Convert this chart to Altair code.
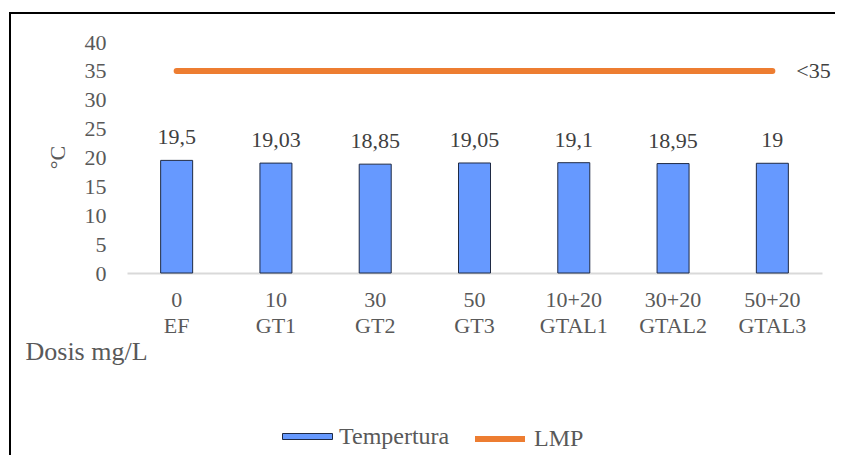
import altair as alt
import pandas as pd

dosis = ["0", "10", "30", "50", "10+20", "30+20", "50+20"]
codigo = ["EF", "GT1", "GT2", "GT3", "GTAL1", "GTAL2", "GTAL3"]
temperatura = [19.5, 19.03, 18.85, 19.05, 19.1, 18.95, 19.0]
lmp = [35, 35, 35, 35, 35, 35, 35]
lmp_label = "<35"
y_ticks = [0, 5, 10, 15, 20, 25, 30, 35, 40]

cats = [f"{d}|{c}" for d, c in zip(dosis, codigo)]

df_bar = pd.DataFrame({"cat": cats, "valor": temperatura, "serie": "Tempertura"})
df_line = pd.DataFrame({"cat": cats, "valor": lmp, "serie": "LMP"})
df_lab = pd.DataFrame({"cat": [cats[-1]], "valor": [lmp[-1]], "txt": [lmp_label]})

FONT = "Liberation Serif"
GRAY = "#595959"

x_axis = alt.Axis(
    title="Dosis mg/L",
    titleX=-102,
    titleY=78,
    titleAlign="left",
    titleBaseline="middle",
    titleFontSize=26,
    titleFontWeight="normal",
    titleColor=GRAY,
    titleFont=FONT,
    labelExpr="split(datum.label, '|')",
    labelAngle=0,
    labelFontSize=22,
    labelLineHeight=26,
    labelPadding=16,
    labelColor=GRAY,
    labelFont=FONT,
    labelFontWeight="normal",
    labelOverlap=False,
    ticks=False,
    domainColor="#D9D9D9",
    domainWidth=2,
    grid=False,
)

y_axis = alt.Axis(
    title="°C",
    titleX=-70,
    titleY=115,
    titleAngle=-90,
    titleAlign="center",
    titleBaseline="middle",
    titleFontSize=22,
    titleFontWeight="normal",
    titleColor=GRAY,
    titleFont=FONT,
    values=y_ticks,
    labelFontSize=22,
    labelColor=GRAY,
    labelFont=FONT,
    labelFontWeight="normal",
    labelPadding=21,
    labelOverlap=False,
    labelBound=False,
    ticks=False,
    domain=False,
    grid=False,
)

y_scale = alt.Scale(domain=[0, 40], nice=False)
x_scale = alt.Scale(paddingInner=0, paddingOuter=0)

bars = alt.Chart(df_bar).mark_bar(size=32, stroke="#1F2A44", strokeWidth=1).encode(
    x=alt.X("cat:N", sort=cats, scale=x_scale, axis=x_axis),
    y=alt.Y("valor:Q", scale=y_scale, axis=y_axis),
    fill=alt.Fill(
        "serie:N",
        scale=alt.Scale(domain=["Tempertura"], range=["#6699FF"]),
        legend=alt.Legend(
            title=None,
            orient="none",
            legendX=155,
            legendY=369,
            labelFontSize=24,
            labelFont=FONT,
            labelColor=GRAY,
            labelOffset=6,
            symbolType="M-1,-0.12H1V0.12H-1Z",
            symbolSize=2500,
            symbolStrokeColor="#1F2A44",
            symbolStrokeWidth=1,
            symbolOpacity=1,
        ),
    ),
)

bar_text = alt.Chart(df_bar).transform_calculate(
    txt="replace(toString(datum.valor), '.', ',')"
).mark_text(font=FONT, fontSize=22, fontWeight="normal", color="#404040", baseline="middle", dy=-23).encode(
    x=alt.X("cat:N", sort=cats, scale=x_scale, axis=x_axis),
    y=alt.Y("valor:Q", scale=y_scale, axis=y_axis),
    text="txt:N",
)

line = alt.Chart(df_line).mark_line(strokeWidth=6, strokeCap="round").encode(
    x=alt.X("cat:N", sort=cats, scale=x_scale, axis=x_axis),
    y=alt.Y("valor:Q", scale=y_scale, axis=y_axis),
    stroke=alt.Stroke(
        "serie:N",
        scale=alt.Scale(domain=["LMP"], range=["#ED7D31"]),
        legend=alt.Legend(
            title=None,
            orient="none",
            legendX=345,
            legendY=369,
            labelFontSize=24,
            labelFont=FONT,
            labelColor=GRAY,
            labelOffset=6,
            symbolType="stroke",
            symbolSize=2500,
            symbolStrokeWidth=6,
            symbolOpacity=1,
        ),
    ),
)

line_text = alt.Chart(df_lab).mark_text(
    font=FONT, fontSize=22, fontWeight="normal", color="#404040", align="left", baseline="middle", dx=24
).encode(
    x=alt.X("cat:N", sort=cats, scale=x_scale, axis=x_axis),
    y=alt.Y("valor:Q", scale=y_scale, axis=y_axis),
    text="txt:N",
)

one = pd.DataFrame({"k": [0]})
border_left = alt.Chart(one).mark_rule(color="#000000", strokeWidth=2).encode(
    x=alt.value(-117), y=alt.value(-29), y2=alt.value(500)
)
border_top = alt.Chart(one).mark_rule(color="#000000", strokeWidth=2).encode(
    x=alt.value(-118), x2=alt.value(800), y=alt.value(-29)
)

chart = alt.layer(bars, bar_text, line, line_text, border_left, border_top).properties(
    width=695,
    height=231,
    padding={"left": 119, "top": 34, "right": 13, "bottom": 182},
    autosize="none",
).resolve_scale(fill="independent", stroke="independent").configure(
    background="white",
    font=FONT,
    view=alt.ViewConfig(stroke=None),
)

chart.save("out.html", embed_options={"renderer": "svg", "actions": False})
